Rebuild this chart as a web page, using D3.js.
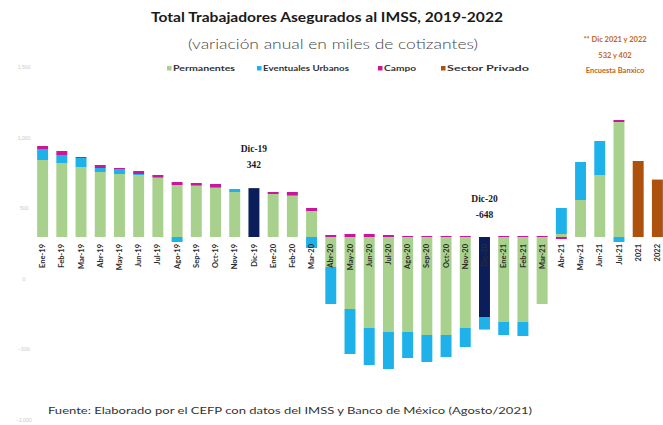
<!DOCTYPE html>
<html>
<head>
<meta charset="utf-8">
<title>Total Trabajadores Asegurados al IMSS, 2019-2022</title>
<script src="https://cdn.jsdelivr.net/npm/d3@7"></script>
<style>
* { margin: 0; padding: 0; }
body { background: #fff; width: 663px; height: 425px; overflow: hidden; }
svg { display: block; font-family: Lato, "Open Sans", sans-serif; }
text.tick { fill: #c8c8c8; font-size: 5px; }
text.cat { fill: #2b2b2b; font-size: 7.5px; font-weight: bold; }
text.note { fill: #c0651c; font-size: 7.5px; font-weight: bold; }
text.annot { fill: #1a1a1a; font-size: 9.5px; font-weight: bold; font-family: "Liberation Serif", serif; }
</style>
</head>
<body>
<div id="chart"></div>
<script>
// periods (x axis)
var periods = ["Ene-19","Feb-19","Mar-19","Abr-19","May-19","Jun-19","Jul-19","Ago-19","Sep-19","Oct-19","Nov-19","Dic-19",
  "Ene-20","Feb-20","Mar-20","Abr-20","May-20","Jun-20","Jul-20","Ago-20","Sep-20","Oct-20","Nov-20","Dic-20",
  "Ene-21","Feb-21","Mar-21","Abr-21","May-21","Jun-21","Jul-21","2021","2022"];

// annual variation, thousands of workers
var permanentes = [539,518,490,455,441,434,413,364,357,343,315,342,
  301,287,182,-210,-504,-637,-665,-665,-686,-686,-637,-560,
  -595,-595,-469,21,259,434,805,0,0];
var eventuales = [77,56,63,28,35,7,7,-35,7,7,21,0,
  0,7,-77,-259,-315,-259,-259,-182,-189,-154,-133,-88,
  -91,-98,0,182,266,238,-35,0,0];
var campo = [21,28,7,21,7,21,14,21,14,21,0,0,
  14,21,21,14,21,21,14,7,7,7,7,0,
  7,7,7,-14,0,0,14,0,0];
var sectorPrivado = [0,0,0,0,0,0,0,0,0,0,0,0,
  0,0,0,0,0,0,0,0,0,0,0,0,
  0,0,0,0,0,0,0,532,402];

var seriesNames = ["Permanentes", "Eventuales Urbanos", "Campo", "Sector Privado"];
var seriesKeys = ["perm", "event", "campo", "priv"];
var highlighted = ["Dic-19", "Dic-20"];
var callouts = [["Dic-19", "342"], ["Dic-20", "-648"]];
var auxTicks = [-1000, -500, 0, 500, 1000, 1500];
var noteLines = ["** Dic 2021 y 2022", "532 y 402", "Encuesta Banxico"];

var colors = { perm: "#a9d18e", event: "#1eb1ea", campo: "#c8179a", priv: "#ac520e" };
var navy = "#0b1e5b";

var width = 663, height = 425;

var rows = periods.map(function(p, i) {
  return { period: p, perm: permanentes[i], event: eventuales[i], campo: campo[i], priv: sectorPrivado[i] };
});

var svg = d3.select("#chart").append("svg")
  .attr("width", width)
  .attr("height", height);

var x = d3.scaleBand()
  .domain(periods)
  .range([33, 667])
  .paddingInner(0.43)
  .paddingOuter(0.215);

var y = d3.scaleLinear()
  .domain([-1000, 1000])
  .range([237 + 1000 / 7, 237 - 1000 / 7]);

// faint secondary scale on the left
var yAux = d3.scaleLinear().domain([-1000, 1500]).range([420, 67]);
svg.append("g").selectAll("text")
  .data(auxTicks)
  .enter().append("text")
  .attr("class", "tick")
  .attr("x", 24)
  .attr("y", function(d) { return yAux(d) + 2; })
  .attr("text-anchor", "middle")
  .text(function(d) { return d3.format(",")(d); });

var stack = d3.stack()
  .keys(seriesKeys)
  .offset(d3.stackOffsetDiverging);
var layers = stack(rows);

svg.append("g").selectAll("g")
  .data(layers)
  .enter().append("g")
  .each(function(layer) {
    d3.select(this).selectAll("rect")
      .data(layer.filter(function(d) { return d[1] !== d[0]; }))
      .enter().append("rect")
      .attr("x", function(d) { return x(d.data.period); })
      .attr("width", x.bandwidth())
      .attr("y", function(d) { return y(Math.max(d[0], d[1])); })
      .attr("height", function(d) { return Math.abs(y(d[0]) - y(d[1])); })
      .attr("fill", function(d) {
        if (layer.key == "perm" && highlighted.indexOf(d.data.period) >= 0) return navy;
        return colors[layer.key];
      });
  });

// category labels, rotated, just under the zero line
svg.append("g").selectAll("text")
  .data(periods)
  .enter().append("text")
  .attr("class", "cat")
  .attr("text-anchor", "end")
  .attr("transform", function(d) {
    return "translate(" + (x(d) + x.bandwidth() / 2 + 2.6) + "," + (y(0) + 7) + ") rotate(-90)";
  })
  .text(function(d) { return d; });

// callouts
callouts.forEach(function(c) {
  var row = rows[periods.indexOf(c[0])];
  var top = row.perm > 0 ? y(row.perm) - 36 : y(0) - 35;
  var cx = x(c[0]) + x.bandwidth() / 2;
  svg.append("text").attr("class", "annot").attr("x", cx).attr("y", top)
    .attr("text-anchor", "middle").text(c[0]);
  svg.append("text").attr("class", "annot").attr("x", cx).attr("y", top + 16)
    .attr("text-anchor", "middle").text(c[1]);
});

// title
svg.append("text")
  .attr("x", 327).attr("y", 22)
  .attr("text-anchor", "middle")
  .attr("font-size", 13.5).attr("font-weight", "bold").attr("fill", "#1a1a1a")
  .attr("textLength", 352).attr("lengthAdjust", "spacingAndGlyphs")
  .text("Total Trabajadores Asegurados al IMSS, 2019-2022");
svg.append("text")
  .attr("x", 333).attr("y", 49)
  .attr("text-anchor", "middle")
  .attr("font-size", 14).attr("font-weight", 300).attr("fill", "#444")
  .attr("textLength", 290).attr("lengthAdjust", "spacingAndGlyphs")
  .text("(variación anual en miles de cotizantes)");

// legend
var legendX = [167, 257, 378, 441];
var legendW = [62, 86, 32, 82];
var legend = svg.append("g").selectAll("g")
  .data(seriesNames)
  .enter().append("g")
  .attr("transform", function(d, i) { return "translate(" + legendX[i] + ",71)"; });
legend.append("rect")
  .attr("x", 0).attr("y", -5).attr("width", 4.5).attr("height", 4.5)
  .attr("fill", function(d, i) { return colors[seriesKeys[i]]; });
legend.append("text")
  .attr("x", 6).attr("y", 0)
  .attr("font-size", 7.5).attr("font-weight", "bold").attr("fill", "#333")
  .attr("textLength", function(d, i) { return legendW[i]; })
  .attr("lengthAdjust", "spacingAndGlyphs")
  .text(function(d) { return d; });

// note on the right
svg.append("g").selectAll("text")
  .data(noteLines)
  .enter().append("text")
  .attr("class", "note")
  .attr("x", 615)
  .attr("y", function(d, i) { return 42 + i * 15.5; })
  .attr("text-anchor", "middle")
  .text(function(d) { return d; });

// source
svg.append("text")
  .attr("x", 48).attr("y", 414)
  .attr("font-size", 10).attr("fill", "#333")
  .attr("textLength", 484).attr("lengthAdjust", "spacingAndGlyphs")
  .text("Fuente: Elaborado por el CEFP con datos del IMSS y Banco de México (Agosto/2021)");
</script>
</body>
</html>
